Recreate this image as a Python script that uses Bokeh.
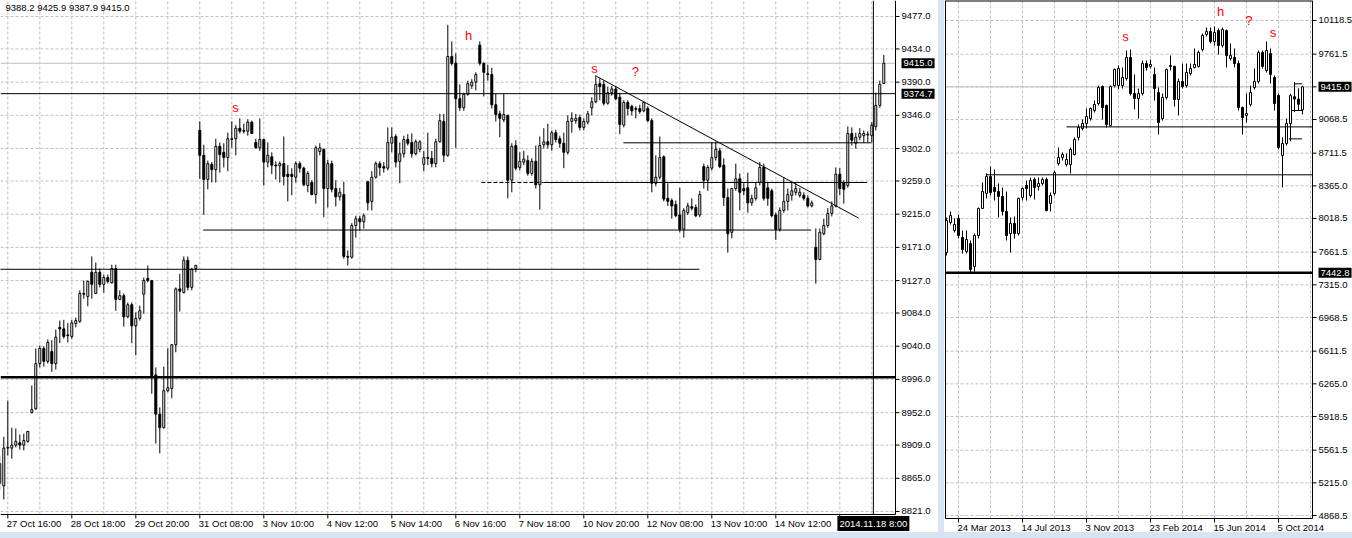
from bokeh.plotting import figure
from bokeh.models import Range1d, Label, ColumnDataSource, Spacer
from bokeh.core.properties import value
from bokeh.layouts import row, column
from bokeh.embed import file_html
from bokeh.resources import INLINE

FONT = "Liberation Sans"

# ---------------- hourly chart (bars -1 .. 220) ----------------
hourly_open = [
    8858, 8855, 8905, 8905, 8909, 8912, 8909, 8914, 8952, 8957,
    9017, 9037, 9020, 9033, 9017, 9065, 9063, 9055, 9053, 9070,
    9073, 9110, 9106, 9138, 9110, 9138, 9122, 9131, 9124, 9143,
    9102, 9107, 9079, 9095, 9067, 9077, 9109, 9130, 9127, 9002,
    8950, 8932, 8981, 8984, 9042, 9116, 9111, 9154, 9118, 9143,
    9326, 9293, 9261, 9281, 9274, 9305, 9297, 9290, 9314, 9315,
    9329, 9326, 9325, 9337, 9310, 9303, 9314, 9284, 9291, 9280,
    9279, 9282, 9268, 9268, 9264, 9282, 9276, 9253, 9257, 9241,
    9298, 9301, 9249, 9282, 9249, 9238, 9241, 9159, 9158, 9200,
    9209, 9205, 9258, 9232, 9264, 9282, 9278, 9276, 9309, 9318,
    9285, 9295, 9314, 9310, 9295, 9301, 9281, 9290, 9289, 9282,
    9311, 9338, 9293, 9424, 9415, 9368, 9356, 9374, 9385, 9390,
    9439, 9415, 9401, 9400, 9360, 9348, 9340, 9346, 9260, 9306,
    9277, 9284, 9286, 9269, 9285, 9254, 9307, 9311, 9307, 9323,
    9315, 9309, 9297, 9338, 9339, 9343, 9330, 9337, 9356, 9364,
    9388, 9387, 9362, 9376, 9381, 9370, 9333, 9363, 9358, 9355,
    9355, 9352, 9355, 9339, 9256, 9264, 9291, 9236, 9233, 9228,
    9214, 9195, 9217, 9225, 9224, 9214, 9278, 9260, 9276, 9290,
    9299, 9280, 9237, 9191, 9249, 9262, 9249, 9250, 9230, 9236,
    9257, 9277, 9250, 9246, 9214, 9195, 9220, 9232, 9240, 9244,
    9240, 9240, 9236, 9226, 9171, 9155, 9189, 9200, 9216, 9226,
    9268, 9257, 9253, 9322, 9309, 9317, 9319, 9321, 9319, 9331,
    9359, 9388.2]
hourly_high = [
    8895, 8920, 8968, 8932, 8931, 8923, 8924, 8928, 8988, 9037,
    9041, 9040, 9049, 9048, 9062, 9074, 9075, 9071, 9075, 9078,
    9114, 9127, 9127, 9159, 9151, 9143, 9135, 9135, 9148, 9148,
    9114, 9110, 9098, 9098, 9085, 9094, 9131, 9147, 9128, 9012,
    8959, 9013, 9037, 9043, 9118, 9136, 9159, 9159, 9144, 9148,
    9338, 9307, 9286, 9284, 9315, 9310, 9309, 9323, 9338, 9333,
    9342, 9335, 9341, 9339, 9315, 9342, 9315, 9310, 9297, 9285,
    9285, 9318, 9280, 9276, 9285, 9285, 9278, 9272, 9260, 9306,
    9309, 9302, 9287, 9286, 9260, 9250, 9258, 9167, 9203, 9213,
    9213, 9216, 9259, 9272, 9285, 9285, 9284, 9330, 9330, 9321,
    9310, 9319, 9321, 9322, 9314, 9313, 9299, 9323, 9299, 9315,
    9348, 9348, 9466, 9444, 9428, 9387, 9376, 9392, 9394, 9403,
    9444, 9416, 9413, 9409, 9375, 9352, 9375, 9347, 9309, 9313,
    9297, 9299, 9293, 9289, 9306, 9318, 9329, 9335, 9326, 9327,
    9319, 9323, 9346, 9350, 9348, 9347, 9342, 9352, 9370, 9399,
    9395, 9392, 9384, 9385, 9385, 9376, 9366, 9366, 9360, 9358,
    9360, 9364, 9358, 9342, 9293, 9318, 9293, 9256, 9236, 9233,
    9250, 9223, 9230, 9236, 9228, 9246, 9282, 9280, 9310, 9311,
    9303, 9289, 9249, 9250, 9282, 9269, 9256, 9270, 9241, 9257,
    9284, 9282, 9257, 9249, 9217, 9224, 9264, 9249, 9258, 9256,
    9250, 9244, 9240, 9233, 9196, 9196, 9209, 9223, 9232, 9277,
    9276, 9260, 9331, 9330, 9323, 9329, 9326, 9325, 9337, 9376,
    9392, 9425.9]
hourly_low = [
    8849, 8837, 8895, 8891, 8906, 8903, 8902, 8912, 8951, 8956,
    9012, 9013, 9017, 9006, 9009, 9044, 9050, 9045, 9050, 9065,
    9071, 9103, 9093, 9103, 9109, 9118, 9111, 9123, 9123, 9087,
    9101, 9066, 9077, 9044, 9028, 9074, 9083, 9125, 8977, 8911,
    8898, 8931, 8979, 8971, 9032, 9086, 9110, 9114, 9114, 9138,
    9262, 9214, 9248, 9257, 9257, 9270, 9277, 9272, 9303, 9293,
    9322, 9322, 9319, 9321, 9302, 9299, 9253, 9277, 9268, 9261,
    9257, 9253, 9232, 9240, 9257, 9270, 9252, 9244, 9240, 9229,
    9293, 9211, 9224, 9244, 9225, 9233, 9156, 9147, 9156, 9184,
    9193, 9196, 9220, 9220, 9262, 9266, 9270, 9273, 9297, 9277,
    9256, 9290, 9306, 9290, 9293, 9297, 9272, 9280, 9277, 9277,
    9310, 9284, 9291, 9412, 9303, 9352, 9352, 9372, 9381, 9379,
    9412, 9371, 9392, 9355, 9338, 9317, 9337, 9236, 9244, 9273,
    9273, 9280, 9266, 9266, 9249, 9221, 9302, 9302, 9299, 9310,
    9303, 9276, 9294, 9323, 9335, 9326, 9326, 9334, 9346, 9362,
    9366, 9359, 9360, 9372, 9366, 9321, 9330, 9346, 9346, 9342,
    9348, 9350, 9337, 9244, 9252, 9261, 9232, 9226, 9209, 9211,
    9191, 9184, 9214, 9220, 9211, 9211, 9249, 9246, 9273, 9286,
    9276, 9226, 9164, 9183, 9246, 9220, 9240, 9217, 9226, 9233,
    9253, 9233, 9226, 9211, 9181, 9192, 9217, 9220, 9233, 9240,
    9237, 9233, 9224, 9224, 9123, 9154, 9187, 9197, 9212, 9224,
    9240, 9229, 9250, 9306, 9302, 9313, 9310, 9310, 9310, 9326,
    9356, 9387.9]
hourly_close = [
    8885, 8905, 8906, 8909, 8914, 8909, 8915, 8927, 8956, 9017,
    9037, 9020, 9045, 9017, 9052, 9063, 9053, 9054, 9071, 9074,
    9110, 9109, 9126, 9122, 9138, 9122, 9131, 9126, 9143, 9102,
    9107, 9079, 9095, 9067, 9077, 9087, 9127, 9127, 9001, 8950,
    8932, 8981, 8985, 9042, 9116, 9113, 9154, 9118, 9142, 9147,
    9293, 9261, 9282, 9274, 9305, 9294, 9290, 9315, 9315, 9329,
    9325, 9325, 9337, 9322, 9303, 9314, 9284, 9293, 9280, 9279,
    9282, 9265, 9265, 9265, 9282, 9276, 9254, 9269, 9241, 9303,
    9303, 9249, 9282, 9248, 9238, 9244, 9159, 9158, 9200, 9209,
    9205, 9213, 9230, 9264, 9282, 9277, 9276, 9310, 9317, 9284,
    9295, 9314, 9309, 9295, 9311, 9311, 9290, 9289, 9282, 9311,
    9339, 9293, 9424, 9415, 9368, 9356, 9374, 9388, 9390, 9400,
    9415, 9403, 9400, 9360, 9347, 9342, 9347, 9260, 9305, 9276,
    9285, 9288, 9269, 9285, 9254, 9306, 9311, 9307, 9323, 9314,
    9309, 9297, 9338, 9342, 9342, 9330, 9338, 9348, 9364, 9387,
    9384, 9362, 9376, 9381, 9368, 9334, 9363, 9355, 9352, 9354,
    9351, 9363, 9339, 9256, 9264, 9290, 9235, 9232, 9226, 9213,
    9195, 9220, 9226, 9223, 9213, 9241, 9260, 9277, 9290, 9301,
    9278, 9237, 9189, 9249, 9262, 9244, 9246, 9230, 9236, 9250,
    9277, 9236, 9236, 9213, 9195, 9220, 9232, 9241, 9246, 9249,
    9244, 9236, 9226, 9230, 9155, 9191, 9200, 9216, 9226, 9268,
    9249, 9248, 9322, 9313, 9317, 9322, 9322, 9320, 9333, 9359,
    9387, 9415.0]
hourly_bars = list(range(-1, 221))
assert len(hourly_open) == len(hourly_high) == len(hourly_low) == len(hourly_close) == len(hourly_bars)

hourly_tick_bars = [1, 17, 33, 49, 65, 81, 97, 113, 129, 145, 161, 177, 193, 209]
hourly_tick_labels = ["27 Oct 16:00", "28 Oct 18:00", "29 Oct 20:00", "31 Oct 08:00", "3 Nov 10:00",
                      "4 Nov 12:00", "5 Nov 14:00", "6 Nov 16:00", "7 Nov 18:00", "10 Nov 20:00",
                      "12 Nov 08:00", "13 Nov 10:00", "14 Nov 12:00"]
hourly_price_ticks = [9477.0, 9434.0, 9390.0, 9346.0, 9302.0, 9259.0, 9215.0, 9171.0,
                      9127.0, 9084.0, 9040.0, 8996.0, 8952.0, 8909.0, 8865.0, 8821.0]
hourly_ohlc_text = "9388.2 9425.9 9387.9 9415.0"
hourly_bid = 9415.0
hourly_level = 9374.7
hourly_bold_level = 8999.0
hourly_vline_bar = 217.4
hourly_vline_text = "2014.11.18 8:00"
# horizontal segments: (start bar, end bar, price)
hourly_segments = [(-3, 173.9, 9142.0), (49.85, 201.85, 9194.0), (134.9, 215.85, 9257.0), (154.9, 216.85, 9309.6)]
hourly_dashed_segments = [(119.4, 134.9, 9257.0)]
hourly_trend = [(148.1, 9398.0), (213.75, 9209.7)]
hourly_marks = [("s", 57.9, 9357.0), ("h", 116.2, 9452.0), ("s", 147.7, 9408.0), ("?", 157.9, 9404.0)]

# ---------------- weekly chart (bars 0 .. 89) ----------------
weekly_open = [
    7658, 7976, 7891, 8019, 7817, 7669, 7753, 7509, 7838, 8125,
    8284, 8464, 8347, 8305, 8252, 8093, 7859, 7966, 7859, 8241,
    8369, 8262, 8432, 8358, 8390, 8432, 8178, 8284, 8602, 8666,
    8591, 8591, 8697, 8878, 8973, 9026, 9079, 9164, 9238, 9419,
    9217, 9005, 9429, 9429, 9429, 9503, 9726, 9344, 9291, 9344,
    9662, 9631, 9546, 9355, 9079, 9302, 9641, 9631, 9281, 9472,
    9429, 9556, 9620, 9631, 9811, 9970, 10002, 9896, 10012, 9853,
    10012, 9716, 9726, 9662, 9196, 9111, 9228, 9408, 9472, 9779,
    9588, 9769, 9514, 9323, 8687, 8814, 9026, 9310, 9285, 9171]
weekly_high = [
    8029, 8093, 8019, 8061, 7891, 7891, 7785, 7859, 8135, 8400,
    8496, 8570, 8538, 8390, 8347, 8305, 8029, 8040, 8241, 8347,
    8422, 8453, 8453, 8453, 8453, 8453, 8294, 8528, 8772, 8719,
    8708, 8772, 8878, 9016, 9069, 9185, 9196, 9270, 9429, 9429,
    9228, 9429, 9609, 9641, 9620, 9800, 9811, 9546, 9397, 9694,
    9694, 9705, 9620, 9408, 9344, 9609, 9747, 9641, 9503, 9662,
    9662, 9662, 9822, 9800, 9981, 10044, 10044, 10055, 10034, 10044,
    10023, 9875, 9822, 9694, 9206, 9344, 9429, 9609, 9800, 9800,
    9896, 9822, 9535, 9344, 8878, 9079, 9342, 9466, 9399, 9425.9]
weekly_low = [
    7626, 7955, 7870, 7806, 7647, 7647, 7436, 7456, 7806, 8120,
    8231, 8262, 8209, 8029, 8050, 7785, 7658, 7806, 7838, 8209,
    8209, 8241, 8220, 8315, 8369, 8093, 8093, 8262, 8581, 8634,
    8570, 8496, 8687, 8846, 8952, 8973, 9058, 9143, 9217, 9069,
    8984, 8994, 9408, 9387, 9397, 9482, 9323, 9175, 9079, 9323,
    9588, 9609, 9270, 8909, 9058, 9281, 9588, 9206, 9111, 9397,
    9408, 9535, 9609, 9620, 9790, 9949, 9875, 9853, 9758, 9832,
    9620, 9694, 9620, 9164, 8909, 9037, 9206, 9387, 9450, 9609,
    9567, 9450, 9164, 8750, 8347, 8793, 8837, 9147, 9164, 9123]
weekly_close = [
    7997, 8050, 7955, 7838, 7690, 7796, 7478, 7838, 8125, 8305,
    8464, 8294, 8305, 8252, 8093, 7838, 7966, 7859, 8231, 8337,
    8337, 8422, 8347, 8390, 8432, 8103, 8262, 8506, 8666, 8697,
    8644, 8750, 8856, 8984, 9026, 9100, 9185, 9228, 9408, 9196,
    9016, 9419, 9599, 9609, 9514, 9726, 9344, 9291, 9344, 9662,
    9620, 9652, 9397, 9037, 9302, 9599, 9631, 9281, 9472, 9419,
    9567, 9609, 9652, 9779, 9959, 10002, 9896, 9991, 9853, 10023,
    9747, 9747, 9662, 9196, 9090, 9132, 9355, 9472, 9779, 9631,
    9800, 9546, 9238, 8772, 8814, 9026, 9322, 9285, 9230, 9415.0]
weekly_bars = list(range(0, 90))
assert len(weekly_open) == len(weekly_high) == len(weekly_low) == len(weekly_close) == len(weekly_bars)

weekly_tick_bars = [3, 19, 35, 51, 67, 83]
weekly_tick_labels = ["24 Mar 2013", "14 Jul 2013", "3 Nov 2013", "23 Feb 2014", "15 Jun 2014", "5 Oct 2014"]
weekly_price_ticks = [10118.5, 9761.5, 9415.0, 9068.5, 8711.5, 8365.0, 8018.5, 7661.5,
                      7315.0, 6968.5, 6611.5, 6265.0, 5918.5, 5561.5, 5215.0, 4868.5]
weekly_bid = 9415.0
weekly_bold_level = 7442.8
weekly_segments = [(9.9, 91.5, 8482.0), (30.0, 91.5, 8990.0), (85.6, 88.9, 8863.0), (87.0, 88.9, 9447.0), (86.3, 88.9, 9164.0)]
weekly_marks = [("s", 44.75, 9949.0), ("h", 68.5, 10211.0), ("?", 75.6, 10122.0), ("s", 81.6, 9989.0)]

GRID = "#c0c0c0"
SEP = "#d7e4f2"


class Pane:
    """One MetaTrader-like chart: a chart box plus a price scale on the right and a time scale below."""

    def __init__(self, width, height, box_w, box_h, left_pad, x0, x1, y0, y1):
        self.x0, self.x1, self.y0, self.y1 = x0, x1, y0, y1
        self.upx = (x1 - x0) / box_w          # bar units per pixel
        self.ppx = (y1 - y0) / box_h          # price units per pixel
        xr = (x0 - left_pad * self.upx, x0 + (width - left_pad) * self.upx)
        yr = (y0 - (height - box_h) * self.ppx, y1)
        p = figure(width=width, height=height, x_range=Range1d(*xr), y_range=Range1d(*yr),
                   x_axis_type=None, y_axis_type=None, output_backend="svg",
                   toolbar_location=None, min_border=0)
        p.outline_line_color = None
        p.background_fill_color = "white"
        p.border_fill_color = "white"
        self.p = p

    def hseg(self, xs0, xs1, ys, **kw):
        self.p.segment(x0=xs0, x1=xs1, y0=ys, y1=ys, **kw)

    def vseg(self, xs, ys0, ys1, **kw):
        self.p.segment(x0=xs, x1=xs, y0=ys0, y1=ys1, **kw)

    def grid(self, grid_bars, price_ticks):
        self.vseg(grid_bars, [self.y0] * len(grid_bars), [self.y1] * len(grid_bars),
                  line_color=GRID, line_width=1, line_dash="3 2")
        self.hseg([self.x0] * len(price_ticks), [self.x1] * len(price_ticks), price_ticks,
                  line_color=GRID, line_width=1, line_dash="3 2")

    def scales(self, price_ticks, time_bars, time_labels, label_y_px):
        p = self.p
        # axis lines
        self.vseg([self.x1], [self.y0], [self.y1], line_color="black", line_width=1)
        self.hseg([self.x0], [self.x1], [self.y0], line_color="black", line_width=1)
        # price ticks and labels
        n = len(price_ticks)
        self.hseg([self.x1] * n, [self.x1 + 4 * self.upx] * n, price_ticks, line_color="black", line_width=1)
        src = ColumnDataSource(dict(x=[self.x1 + 6 * self.upx] * n, y=price_ticks,
                                    t=["%.1f" % v for v in price_ticks]))
        p.text(x="x", y="y", text="t", source=src, text_align="left", text_baseline="middle",
               text_font=value(FONT), text_font_size=value("9.5px"), text_color="black")
        # time ticks and labels
        m = len(time_bars)
        self.vseg(time_bars, [self.y0] * m, [self.y0 - 4 * self.ppx] * m, line_color="black", line_width=1)
        k = len(time_labels)
        src = ColumnDataSource(dict(x=[b - 1 * self.upx for b in time_bars[:k]],
                                    y=[self.y0 - label_y_px * self.ppx] * k, t=time_labels))
        p.text(x="x", y="y", text="t", source=src, text_align="left", text_baseline="middle",
               text_font=value(FONT), text_font_size=value("9.5px"), text_color="black")

    def price_box(self, price):
        self.p.add_layout(Label(x=self.x1 + 6 * self.upx, y=price, text="%.1f" % price,
                                text_align="left", text_baseline="middle", text_font=FONT,
                                text_font_size="9.5px", text_color="white",
                                background_fill_color="black", padding=2))

    def time_box(self, bar, text, label_y_px):
        self.p.add_layout(Label(x=bar, y=self.y0 - label_y_px * self.ppx, text=text,
                                text_align="center", text_baseline="middle", text_font=FONT,
                                text_font_size="9.5px", text_color="white",
                                background_fill_color="black", padding=2))

    def marks(self, items):
        for t, x, y in items:
            self.p.add_layout(Label(x=x, y=y, text=t, text_align="center", text_baseline="middle",
                                    text_font=FONT, text_font_size="13px", text_color="#ff0000"))

    def candles(self, xs, o, h, l, c, body_width=0.5):
        top = [max(a, b) for a, b in zip(o, c)]
        bot = [min(a, b) for a, b in zip(o, c)]
        fill = ["white" if b >= a else "black" for a, b in zip(o, c)]
        src = ColumnDataSource(dict(x=xs, h=h, l=l, top=top, bot=bot, fill=fill))
        self.p.segment(x0="x", y0="l", x1="x", y1="h", source=src, line_color="black", line_width=1)
        self.p.vbar(x="x", width=body_width, top="top", bottom="bot", source=src,
                    fill_color="fill", line_color="black", line_width=1)


# ---------------- left (hourly) pane ----------------
L = Pane(938, 532, 895, 514, 0, -0.825, 222.925, 8817.0, 9498.2)
L.grid(list(range(1, 222, 8)), hourly_price_ticks)
L.hseg([L.x0], [L.x1], [hourly_bid], line_color=GRID, line_width=1)
L.candles(hourly_bars, hourly_open, hourly_high, hourly_low, hourly_close)
L.hseg([L.x0], [L.x1], [hourly_level], line_color="black", line_width=1)
L.hseg([L.x0], [L.x1], [hourly_bold_level], line_color="black", line_width=2.5)
L.vseg([hourly_vline_bar], [L.y0], [L.y1], line_color="black", line_width=1)
L.hseg([s[0] for s in hourly_segments], [s[1] for s in hourly_segments], [s[2] for s in hourly_segments],
       line_color="black", line_width=1)
L.hseg([s[0] for s in hourly_dashed_segments], [s[1] for s in hourly_dashed_segments],
       [s[2] for s in hourly_dashed_segments], line_color="black", line_width=1, line_dash="4 2")
L.p.segment(x0=[hourly_trend[0][0]], y0=[hourly_trend[0][1]], x1=[hourly_trend[1][0]], y1=[hourly_trend[1][1]],
            line_color="black", line_width=1)
L.marks(hourly_marks)
L.p.add_layout(Label(x=L.x0 + 5 * L.upx, y=L.y1 - 7 * L.ppx, text=hourly_ohlc_text, text_align="left",
                     text_baseline="middle", text_font=FONT, text_font_size="9.5px", text_color="black"))
L.scales(hourly_price_ticks, hourly_tick_bars, hourly_tick_labels, 9.0)
L.time_box(hourly_vline_bar, hourly_vline_text, 9.0)
L.price_box(hourly_bid)
L.price_box(hourly_level)

# ---------------- right (weekly) pane ----------------
R = Pane(408, 532, 367, 518, 1, -0.25, 91.5, 4836.7, 10330.6)
R.grid(list(range(3, 92, 8)), weekly_price_ticks)
R.hseg([R.x0], [R.x1], [weekly_bid], line_color=GRID, line_width=1)
R.candles(weekly_bars, weekly_open, weekly_high, weekly_low, weekly_close)
R.hseg([R.x0], [R.x1], [weekly_bold_level], line_color="black", line_width=2.5)
R.hseg([s[0] for s in weekly_segments], [s[1] for s in weekly_segments], [s[2] for s in weekly_segments],
       line_color="black", line_width=1)
R.vseg([R.x0], [R.y0], [R.y1], line_color="black", line_width=1)
R.hseg([R.x0], [R.x1], [R.y1], line_color="black", line_width=2)
R.marks(weekly_marks)
R.scales(weekly_price_ticks, weekly_tick_bars, weekly_tick_labels, 8.7)
R.price_box(weekly_bid)
R.price_box(weekly_bold_level)

sep = Spacer(width=6, height=532, styles={"background-color": SEP})
bottom = Spacer(width=1352, height=6, styles={"background-color": SEP})
layout = column(row(L.p, sep, R.p), bottom)

open("out.html", "w").write(file_html(layout, INLINE))
